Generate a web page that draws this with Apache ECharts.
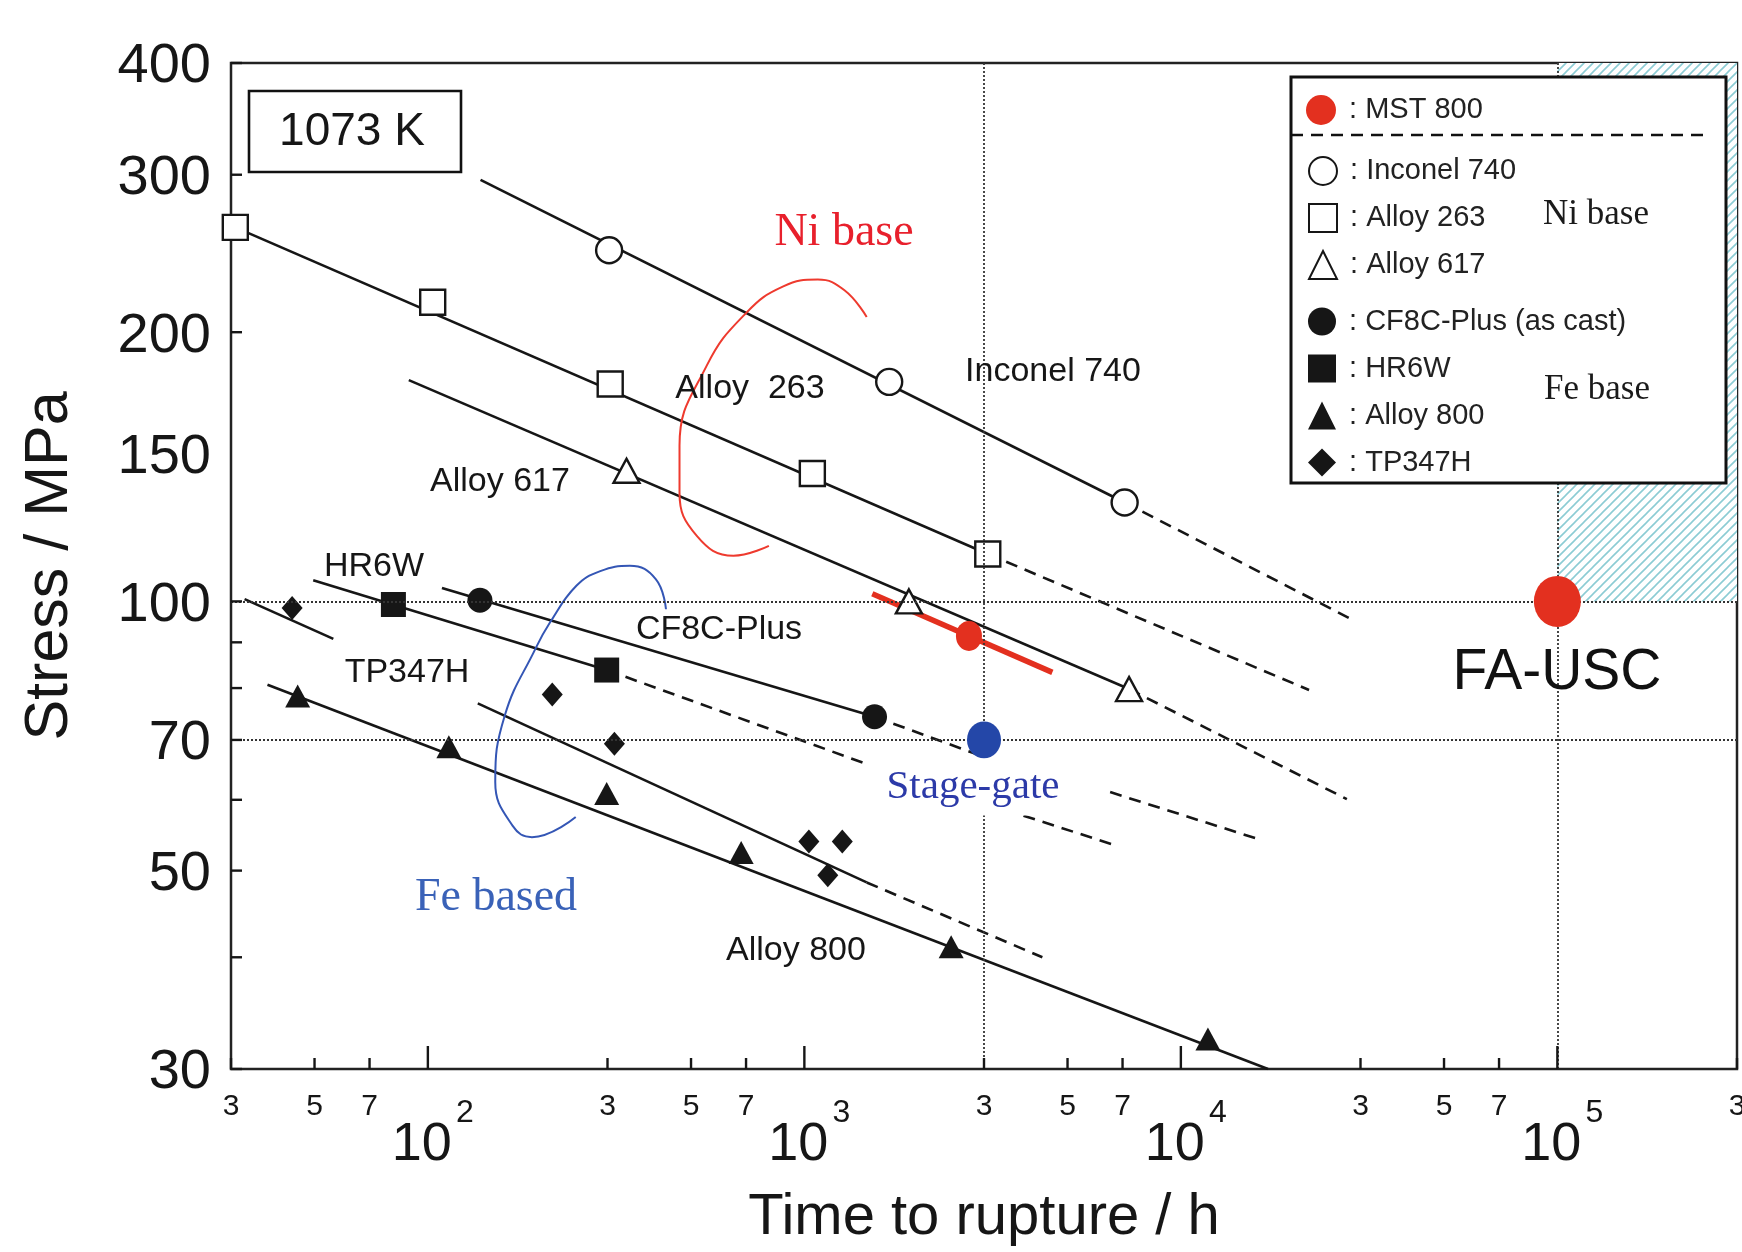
<!DOCTYPE html>
<html><head><meta charset="utf-8">
<script src="https://cdn.jsdelivr.net/npm/echarts@6/dist/echarts.min.js"></script>
<style>html,body{margin:0;padding:0;background:#fff}#c{width:1742px;height:1252px}</style>
</head><body><div id="c"></div>
<script>
// ---------- tick data ----------
const xTickValues = [30,50,70,100,300,500,700,1000,3000,5000,7000,10000,30000,50000,70000,100000,300000];
const xTickLabels = ['3','5','7','10^2','3','5','7','10^3','3','5','7','10^4','3','5','7','10^5','3'];
const yTickValues = [30,40,50,60,70,80,90,100,150,200,300,400];
const yTickLabels = ['30','','50','','70','','','100','150','200','300','400'];

// ---------- series data: [time to rupture (h), stress (MPa)] ----------
const inconel740Points = [[303,247],[1680,176],[7090,129]];
const inconel740Solid  = [[138,296],[7090,129]];
const inconel740Dashed = [[7090,129],[29100,95]];

const alloy263Points = [[30.8,262],[103,216],[305,175],[1050,139],[3070,113]];
const alloy263Solid  = [[30.8,262],[3070,113]];
const alloy263Dashed = [[3070,113],[21900,79.6]];

const alloy617Points = [[337,140],[1895,100],[7285,79.8]];
const alloy617Solid  = [[89,176.8],[7285,79.8]];
const alloy617Dashed = [[7285,79.8],[27600,60.1]];

const mst800Point = [[2736,91.5]];
const mst800Range = [[1515,102],[4557,83.3]];

const cf8cPoints  = [[137.5,100.3],[1536,74.3]];
const cf8cSolid   = [[109,103.5],[1536,74.3]];
const cf8cDashedA = [[1536,74.3],[2889,67.4]];
const cf8cDashedB = [[6489,61.2],[16350,54.1]];

const hr6wPoints  = [[81,99.2],[298.5,83.8]];
const hr6wSolid   = [[49.6,105.6],[298.5,83.8]];
const hr6wDashedA = [[298.5,83.8],[1434,66]];
const hr6wDashedB = [[3819,57.6],[6760,53.3]];

const alloy800Points = [[45.1,78.4],[113.7,68.8],[298.5,61],[679.5,52.4],[2454,41.1],[11800,32.4]];
const alloy800Solid  = [[37.5,80.7],[17040,30]];

const tp347hPoints = [[43.6,98.3],[214,78.7],[313,69.3],[1028,53.9],[1261,53.9],[1154,49.4]];
const tp347hSolidA = [[32.6,100.6],[56.1,90.8]];
const tp347hSolidB = [[135.7,76.9],[1464,48.5]];
const tp347hDashed = [[1464,48.5],[4287,40]];

const faUscPoint = [[100000,100]];
const stageGatePoint = [[3000,70]];
const refTimes = [3000,100000];
const refStresses = [70,100];
const targetRegion = [[100000,100],[300000,400]];

// annotation arcs
const niBaseArc = [[1464,208],[1278,222.8],[1086,229],[879,225],[703,210.5],[550,183.4],[466,149.3],[466,132.4],[518,118.4],[648,112.5],[805,115.4]];
const feBaseArc = [[429,98],[403,105.9],[344,109.6],[287,108.1],[248,104.1],[211,94.7],[193,88.5],[160,74.5],[151,62.8],[168,56.1],[189,54.5],[247,57.4]];

// ---------- styling ----------
const SANS = '"Liberation Sans", Arial, Helvetica, sans-serif';
const SERIF = '"Liberation Serif", "Times New Roman", serif';
const INK = '#161616';
const RED = '#e3301f';
const BLUE = '#2447a8';
const X_MIN = 30, Y_MIN = 30;

const hatch = document.createElement('canvas');
hatch.width = 9; hatch.height = 9;
(function(){
  const c = hatch.getContext('2d');
  c.fillStyle = '#ffffff'; c.fillRect(0,0,9,9);
  c.strokeStyle = 'rgb(140,204,212)'; c.lineWidth = 1.6;
  c.beginPath();
  c.moveTo(0,9); c.lineTo(9,0);
  c.moveTo(-2,2); c.lineTo(2,-2);
  c.moveTo(7,11); c.lineTo(11,7);
  c.stroke();
})();

function lineSeries(name, data, dashed, extra){
  return Object.assign({
    name: name, type: 'line', data: data, showSymbol: false, symbol: 'none',
    silent: true, z: 2, animation: false,
    lineStyle: {color: INK, width: 2.6, type: dashed ? [12,8] : 'solid'}
  }, extra || {});
}
function scatterSeries(name, data, symbol, size, fill, extra){
  return Object.assign({
    name: name, type: 'scatter', data: data, symbol: symbol, symbolSize: size,
    silent: true, z: 4, clip: false, animation: false,
    itemStyle: {color: fill, borderColor: INK, borderWidth: fill === '#ffffff' ? 2.4 : 0, opacity: 1}
  }, extra || {});
}

function xTickItem(params, api){
  const i = params.dataIndex;
  const p = api.coord([xTickValues[i], Y_MIN]);
  const lab = xTickLabels[i];
  const major = lab.indexOf('^') >= 0;
  const ch = [{type:'line', shape:{x1:p[0], y1:p[1], x2:p[0], y2:p[1] - (major ? 23 : 11)}, style:{stroke: INK, lineWidth: 2.4}}];
  if (major) {
    const parts = lab.split('^');
    ch.push({type:'text', x:p[0]-6, y:p[1]+76, style:{text: parts[0], font: '54px ' + SANS, fill: INK, align:'center', verticalAlign:'middle'}});
    ch.push({type:'text', x:p[0]+37, y:p[1]+44, style:{text: parts[1], font: '32px ' + SANS, fill: INK, align:'center', verticalAlign:'middle'}});
  } else {
    ch.push({type:'text', x:p[0], y:p[1]+38, style:{text: lab, font: '30px ' + SANS, fill: INK, align:'center', verticalAlign:'middle'}});
  }
  return {type:'group', children: ch};
}
function yTickItem(params, api){
  const i = params.dataIndex;
  const v = yTickValues[i];
  const p = api.coord([X_MIN, v]);
  const ch = [];
  if (v !== 150) ch.push({type:'line', shape:{x1:p[0], y1:p[1], x2:p[0]+11, y2:p[1]}, style:{stroke: INK, lineWidth: 2.4}});
  if (yTickLabels[i]) {
    const dy = v === 150 ? 14 : 4;   // the original prints the 150 label slightly low
    ch.push({type:'text', x:p[0]-20, y:p[1]+dy, style:{text: yTickLabels[i], font: '56px ' + SANS, fill: INK, align:'right', verticalAlign:'middle'}});
  }
  return {type:'group', children: ch};
}

function txt(x, y, text, size, family, color, extra){
  return {type:'text', x:x, y:y, z: 20, silent: true,
    style: Object.assign({text: text, font: size + 'px ' + family, fill: color,
      align:'center', verticalAlign:'middle', textAlign:'center', textVerticalAlign:'middle'}, extra || {})};
}

const legendText = {fontSize: 29, fontFamily: SANS, color: '#222'};
const chart = echarts.init(document.getElementById('c'), null, {renderer: 'canvas'});
const option = {
  animation: false,
  backgroundColor: '#ffffff',
  grid: {left: 231, right: 5, top: 63, bottom: 182, show: true, borderColor: '#222', borderWidth: 2.5, backgroundColor: 'transparent'},
  xAxis: {
    type: 'log', logBase: 10, min: 30, max: 300000,
    axisLine: {show: false}, axisTick: {show: false}, axisLabel: {show: false}, splitLine: {show: false},
    name: 'Time to rupture / h', nameLocation: 'middle', nameGap: 120,
    nameTextStyle: {fontSize: 58, fontFamily: SANS, color: INK}
  },
  yAxis: {
    type: 'log', logBase: 10, min: 30, max: 400,
    axisLine: {show: false}, axisTick: {show: false}, axisLabel: {show: false}, splitLine: {show: false},
    name: 'Stress / MPa', nameLocation: 'middle', nameGap: 150,
    nameTextStyle: {fontSize: 61, fontFamily: SANS, color: INK}
  },
  legend: [
    {data: ['MST 800'], left: 1306, top: 95, padding: 0, itemWidth: 30, itemHeight: 31, selectedMode: false, z: 10,
     formatter: ' : {name}', textStyle: legendText},
    {data: ['Inconel 740','Alloy 263','Alloy 617'], orient: 'vertical', left: 1308, top: 156, padding: 0,
     itemWidth: 28, itemHeight: 28, itemGap: 17, selectedMode: false, z: 10,
     formatter: ' : {name}', textStyle: legendText},
    {data: ['CF8C-Plus (as cast)','HR6W','Alloy 800','TP347H'], orient: 'vertical', left: 1308, top: 307, padding: 0,
     itemWidth: 28, itemHeight: 28, itemGap: 18, selectedMode: false, z: 10,
     formatter: ' : {name}', textStyle: legendText}
  ],
  graphic: [
    {type:'rect', z: 8, silent: true, shape:{x:1291, y:77, width:435, height:406}, style:{fill:'#fff', stroke:'#111', lineWidth:3}},
    {type:'line', z: 9, silent: true, shape:{x1:1291, y1:135, x2:1708, y2:135}, style:{stroke:'#111', lineWidth:2.5, lineDash:[12,8]}},
    txt(1596, 215, 'Ni base', 35, SERIF, '#1a1a1a'),
    txt(1597, 390, 'Fe base', 35, SERIF, '#1a1a1a'),
    {type:'rect', z: 8, silent: true, shape:{x:249, y:91, width:212, height:81}, style:{fill:'#fff', stroke:'#111', lineWidth:2.6}},
    txt(352, 132, '1073 K', 46, SANS, INK),
    txt(844, 233, 'Ni base', 46, SERIF, '#e8202c'),
    txt(750, 389, 'Alloy  263', 34, SANS, INK),
    txt(1053, 372, 'Inconel 740', 34, SANS, INK),
    txt(500, 482, 'Alloy 617', 34, SANS, INK),
    txt(374, 567, 'HR6W', 34, SANS, INK),
    txt(719, 630, 'CF8C-Plus', 34, SANS, INK),
    txt(407, 673, 'TP347H', 34, SANS, INK),
    txt(496, 898, 'Fe based', 46, SERIF, '#3a62b8'),
    txt(973, 787, 'Stage-gate', 41, SERIF, '#2c3aa8', {backgroundColor:'#fff', padding:[5,4,11,4]}),
    txt(796, 951, 'Alloy 800', 34, SANS, INK),
    txt(1557, 673, 'FA-USC', 57, SANS, '#111')
  ],
  series: [
    // target region, reference lines
    {name: 'ref', type: 'line', data: [], z: 1, silent: true,
     markArea: {silent: true, itemStyle: {color: {image: hatch, repeat: 'repeat'}},
       data: [[{coord: targetRegion[0]}, {coord: targetRegion[1]}]]},
     markLine: {silent: true, symbol: ['none','none'], label: {show: false},
       lineStyle: {color: '#333', width: 1.8, type: [2,2]},
       data: refTimes.map(t => ({xAxis: t})).concat(refStresses.map(s => ({yAxis: s})))}},
    // fitted lines
    lineSeries('Inconel 740 fit', inconel740Solid, false),
    lineSeries('Inconel 740 ext', inconel740Dashed, true),
    lineSeries('Alloy 263 fit', alloy263Solid, false),
    lineSeries('Alloy 263 ext', alloy263Dashed, true),
    lineSeries('Alloy 617 fit', alloy617Solid, false),
    lineSeries('Alloy 617 ext', alloy617Dashed, true),
    lineSeries('CF8C fit', cf8cSolid, false),
    lineSeries('CF8C ext A', cf8cDashedA, true),
    lineSeries('CF8C ext B', cf8cDashedB, true),
    lineSeries('HR6W fit', hr6wSolid, false),
    lineSeries('HR6W ext A', hr6wDashedA, true),
    lineSeries('HR6W ext B', hr6wDashedB, true),
    lineSeries('Alloy 800 fit', alloy800Solid, false),
    lineSeries('TP347H fit A', tp347hSolidA, false),
    lineSeries('TP347H fit B', tp347hSolidB, false),
    lineSeries('TP347H ext', tp347hDashed, true),
    lineSeries('MST 800 range', mst800Range, false, {z: 3, lineStyle: {color: RED, width: 5.5}}),
    lineSeries('Ni arc', niBaseArc, false, {smooth: 0.45, z: 3, lineStyle: {color: '#ee3a2e', width: 2}}),
    lineSeries('Fe arc', feBaseArc, false, {smooth: 0.45, z: 3, lineStyle: {color: '#3456b5', width: 2}}),
    // markers
    scatterSeries('Inconel 740', inconel740Points, 'circle', 26, '#ffffff'),
    scatterSeries('Alloy 263', alloy263Points, 'rect', 25, '#ffffff'),
    scatterSeries('Alloy 617', alloy617Points, 'triangle', [26,24], '#ffffff'),
    scatterSeries('CF8C-Plus (as cast)', cf8cPoints, 'circle', 25, INK),
    scatterSeries('HR6W', hr6wPoints, 'rect', 25, INK),
    scatterSeries('Alloy 800', alloy800Points, 'triangle', [25,23], INK),
    scatterSeries('TP347H', tp347hPoints, 'diamond', [21,24], INK),
    scatterSeries('MST 800', mst800Point, 'circle', [26,30], RED, {z: 5}),
    scatterSeries('FA-USC', faUscPoint, 'circle', [47,51], RED, {z: 5}),
    scatterSeries('Stage-gate', stageGatePoint, 'circle', [34,37], BLUE, {z: 5}),
    // axis ticks and tick labels
    {type: 'custom', name: 'x ticks', coordinateSystem: 'cartesian2d', clip: false, silent: true, z: 6,
     data: xTickValues.map(v => [v, Y_MIN]), encode: {x: 0, y: 1}, renderItem: xTickItem},
    {type: 'custom', name: 'y ticks', coordinateSystem: 'cartesian2d', clip: false, silent: true, z: 6,
     data: yTickValues.map(v => [X_MIN, v]), encode: {x: 0, y: 1}, renderItem: yTickItem}
  ]
};
chart.setOption(option);
</script>
</body></html>
